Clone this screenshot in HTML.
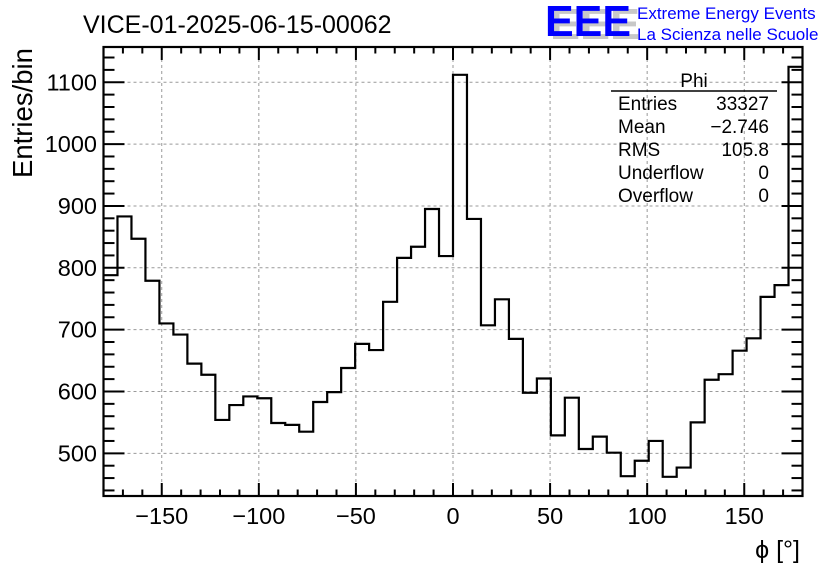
<!DOCTYPE html>
<html><head><meta charset="utf-8"><style>
body{margin:0;background:#fff;width:836px;height:572px;overflow:hidden}
svg{font-family:"Liberation Sans",sans-serif}
</style></head><body>
<svg id="c" width="836" height="572">
<text x="83" y="33" font-size="25">VICE-01-2025-06-15-00062</text>
<g>
<text x="550" y="39" font-size="44" font-weight="bold" fill="#c8c8c8" textLength="90" lengthAdjust="spacingAndGlyphs">EEE</text>
<text x="545" y="36" font-size="44" font-weight="bold" fill="#0000ff" textLength="86" lengthAdjust="spacingAndGlyphs">EEE</text>
<text x="637" y="19" font-size="17" fill="#0000ff">Extreme Energy Events</text>
<text x="637" y="40" font-size="17" fill="#0000ff">La Scienza nelle Scuole</text>
</g>
<g id="grid"></g>
<g id="axes"></g>
<path id="hist" fill="none" stroke="#000" stroke-width="2.2"/>
<g font-size="19">
<text x="694" y="87" text-anchor="middle">Phi</text>
<line x1="611" y1="91" x2="777" y2="91" stroke="#000" stroke-width="1.5"/>
<text x="618" y="110">Entries</text><text x="769" y="110" text-anchor="end">33327</text>
<text x="618" y="133">Mean</text><text x="769" y="133" text-anchor="end">−2.746</text>
<text x="618" y="156">RMS</text><text x="769" y="156" text-anchor="end">105.8</text>
<text x="618" y="179">Underflow</text><text x="769" y="179" text-anchor="end">0</text>
<text x="618" y="202">Overflow</text><text x="769" y="202" text-anchor="end">0</text>
</g>
<text transform="translate(32,178) rotate(-90)" font-size="27.5">Entries/bin</text>
<text x="800" y="558" text-anchor="end" font-size="25">ϕ [°]</text>
</svg>
<script>
const binLow = -180, binWidth = 7.2;
const counts = [788,883,847,779,710,692,645,627,554,578,592,589,549,546,535,583,599,638,677,667,745,816,834,895,819,
1112,879,707,749,685,598,621,529,590,507,527,501,463,488,520,462,477,550,619,628,666,686,753,772,1125];
const xTicks = [-150,-100,-50,0,50,100,150];
const yTicks = [500,600,700,800,900,1000,1100];
const X0=103.5,X1=802.5,Y0=496,Y1=47;
const xMin=-180,xMax=180,yMin=431,yMax=1157;
function sx(v){return X0+(v-xMin)/(xMax-xMin)*(X1-X0);}
function sy(v){return Y0-(v-yMin)/(yMax-yMin)*(Y0-Y1);}
const NS="http://www.w3.org/2000/svg";
const grid=document.getElementById('grid'), axes=document.getElementById('axes');
function ln(p,x1,y1,x2,y2,st,w,dash){const l=document.createElementNS(NS,'line');
l.setAttribute('x1',x1);l.setAttribute('y1',y1);l.setAttribute('x2',x2);l.setAttribute('y2',y2);
l.setAttribute('stroke',st);l.setAttribute('stroke-width',w);if(dash)l.setAttribute('stroke-dasharray',dash);p.appendChild(l);return l;}
function tx(p,x,y,s,anchor){const t=document.createElementNS(NS,'text');t.setAttribute('x',x);t.setAttribute('y',y);
t.setAttribute('font-size',23.5);t.setAttribute('text-anchor',anchor);t.textContent=s;p.appendChild(t);return t;}
xTicks.forEach(v=>{const g=ln(grid,sx(v),Y1,sx(v),Y0,'#999',1,'3,3');


const t=tx(axes,sx(v),524,String(v).replace('-','−'),'middle');

});
yTicks.forEach(v=>{const g=ln(grid,X0,sy(v),X1,sy(v),'#999',1,'3,3');


const t=tx(axes,97,sy(v)+8,String(v),'end');

});
for(let v=-180;v<=180;v+=10){const maj=v%50===0;const L=maj?13:6.5;
ln(axes,sx(v),Y0,sx(v),Y0-L,'#000',2);ln(axes,sx(v),Y1,sx(v),Y1+L,'#000',2);}
for(let v=440;v<=1150;v+=20){const maj=v%100===0;const L=maj?21:11;
ln(axes,X0,sy(v),X0+L,sy(v),'#000',2);ln(axes,X1,sy(v),X1-L,sy(v),'#000',2);}
const fr=document.createElementNS(NS,'rect');fr.setAttribute('x',X0);fr.setAttribute('y',Y1);
fr.setAttribute('width',X1-X0);fr.setAttribute('height',Y0-Y1);fr.setAttribute('fill','none');
fr.setAttribute('stroke','#000');fr.setAttribute('stroke-width',2.2);


axes.appendChild(fr);
let d='';counts.forEach((c,i)=>{const a=sx(binLow+i*binWidth),b=sx(binLow+(i+1)*binWidth),y=sy(c);
d+=(i===0?'M'+a+','+y:'L'+a+','+y)+'L'+b+','+y;});
document.getElementById('hist').setAttribute('d',d);
</script>
</body></html>
